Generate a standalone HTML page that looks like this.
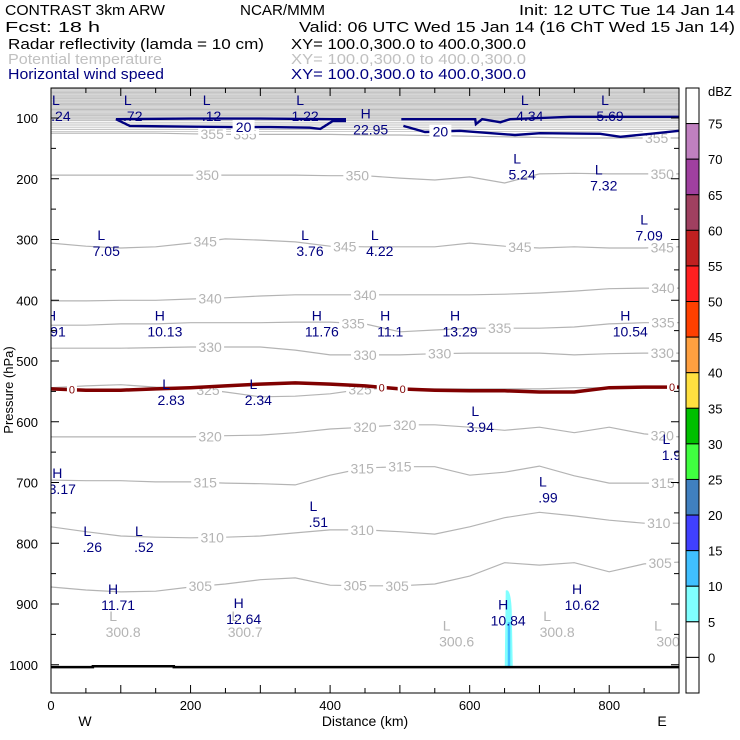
<!DOCTYPE html>
<html><head><meta charset="utf-8"><style>
html,body{margin:0;padding:0;background:#fff;}
svg{display:block;font-family:"Liberation Sans",sans-serif;}
</style></head><body>
<svg id="chart" width="740" height="740" viewBox="0 0 740 740">
<g font-size="15">
<text x="5" y="15" textLength="160" lengthAdjust="spacingAndGlyphs">CONTRAST  3km ARW</text>
<text x="240" y="15" textLength="85" lengthAdjust="spacingAndGlyphs">NCAR/MMM</text>
<text x="519" y="15" textLength="216" lengthAdjust="spacingAndGlyphs">Init: 12 UTC Tue 14 Jan 14</text>
<text x="5" y="32" textLength="95" lengthAdjust="spacingAndGlyphs">Fcst:    18 h</text>
<text x="299" y="32" textLength="436" lengthAdjust="spacingAndGlyphs">Valid: 06 UTC Wed 15 Jan 14 (16 ChT Wed 15 Jan 14)</text>
<text x="8" y="49" textLength="256" lengthAdjust="spacingAndGlyphs">Radar reflectivity (lamda = 10 cm)</text>
<text x="291" y="49" textLength="235" lengthAdjust="spacingAndGlyphs">XY= 100.0,300.0 to 400.0,300.0</text>
<text x="8" y="64" fill="#c0c0c0" textLength="154" lengthAdjust="spacingAndGlyphs">Potential temperature</text>
<text x="291" y="64" fill="#c0c0c0" textLength="235" lengthAdjust="spacingAndGlyphs">XY= 100.0,300.0 to 400.0,300.0</text>
<text x="8" y="79" fill="#000080" textLength="156" lengthAdjust="spacingAndGlyphs">Horizontal wind speed</text>
<text x="291" y="79" fill="#000080" textLength="235" lengthAdjust="spacingAndGlyphs">XY= 100.0,300.0 to 400.0,300.0</text>
</g>
<g id="plot"></g>
</svg>
<script>
const kmGrid=[0,50,100,150,200,250,300,350,400,450,500,550,600,650,700,750,800,850,900];
const topLevels=[52,54,56,58,60,62,64,66,68,70,72,74,76,78,80,82,84,86,88,90,92,94,96,98,100,102,104,107,110,113,116,119,122];
const thetaNames=['355','350','345','340','335','330','325','320','315','310','305'];
const t355=[125,125,125,125,126,127,127,127,127,128,128,129,130,131,132,133,133,133,133];
const t350=[194,194,194,194,194,194,194,194,195,195,199,202,197,207,192,191,192,192,192];
const t345=[306,311,314,312,306,299,301,304,311,312,312,312,306,311,314,312,314,314,312];
const t340=[401,401,400,400,398,396,393,391,391,391,391,391,391,390,388,385,381,380,380];
const t335=[441,441,439,439,437,437,437,436,436,439,452,449,446,446,446,444,439,437,437];
const t330=[479,479,479,478,477,477,477,482,490,490,490,488,487,487,487,490,488,487,487];
const t325=[544,541,539,543,544,551,559,558,554,546,546,546,546,546,546,544,544,544,544];
const t320=[625,625,625,625,625,623,622,618,612,609,605,605,609,614,609,618,609,620,625];
const t315=[696,697,697,699,699,701,702,704,688,676,674,674,688,683,673,689,701,701,701];
const t310=[773,781,788,790,791,790,788,783,778,778,781,785,773,758,749,755,762,767,767];
const t305=[872,877,880,879,872,867,860,857,869,870,870,867,854,832,836,832,847,834,831];
const thetaSeries=[t355,t350,t345,t340,t335,t330,t325,t320,t315,t310,t305];
const thetaLabelKm=[[231,278,868],[224,439,876],[221,421,672,876],[228,450,877],[433,643,877],[228,450,557,876],[225,443],[228,450,507,876],[221,446,500,877],[231,446,871],[214,436,496,873]];
const freezeP=[546,548,548,546,544,541,538,536,538,541,546,548,549,549,551,551,544,543,543];
const freezeLabelKm=[30,474,504,890];
const windA_km=[93,113,257,314,371,386,404,421,421,404,300,200,93];
const windA_p=[102,113,115,115,116,118,105,105,102,102,101,101,102];
const windB_km=[502,608,609,618,644,658,744,900];
const windB_p=[102,102,110,102,107,102,98,98];
const windC_km=[505,536,586,665,701,787,816,859,900];
const windC_p=[113,123,121,128,125,126,131,126,121];
const hlLetters=['L','L','L','L','H','L','L','L','L','L','L','L','L','H','H','H','H','H','H','L','L','L','L','H','L','L','L','L','H','H','H','H'];
const hlValues=['.24','.72','.12','1.22','22.95','4.34','5.69','5.24','7.32','7.05','3.76','4.22','7.09','.91','10.13','11.76','11.1','13.29','10.54','2.83','2.34','3.94','1.9','3.17','.99','.51','.26','.52','11.71','12.64','10.84','10.62'];
const hlKm=[7,110,223,357,451,679,794,668,785,72,364,464,850,0,156,381,479,579,823,165,290,608,882,9,705,376,52,126,89,269,648,754];
const hlP=[70,70,70,70,93,70,70,167,185,293,293,293,267,425,425,425,425,425,425,538,538,582,628,684,698,739,780,780,875,898,901,875];
const minLetters=['L','L','L','L','L'];
const minValues=['300.8','300.7','300.6','300.8','300'];
const minKm=[89,264,567,711,870];
const minP=[920,920,935,920,935];
const yTicks=[100,200,300,400,500,600,700,800,900,1000];
const xTicks=[0,200,400,600,800];
const dbzLevels=['75','70','65','60','55','50','45','40','35','30','25','20','15','10','5','0'];
const dbzColors=['#ffffff','#c080c0','#a040a0','#a04060','#c02020','#ff2020','#ff4000','#ffa040','#ffe040','#00c000','#40ff40','#4080c0','#4040ff','#40c0ff','#80ffff','#ffffff','#ffffff'];
const echoKm=[656,656];
const echoTopP=[878,930];

const L=51,R=679,T=88,B=693;
const X=km=>L+km*(R-L)/900;
const Y=p=>118+(p-100)*0.6075;
const NS='http://www.w3.org/2000/svg';
const plot=document.getElementById('plot');
function mk(tag,attrs,parent){const e=document.createElementNS(NS,tag);for(const k in attrs)e.setAttribute(k,attrs[k]);(parent||plot).appendChild(e);return e;}
function interp(arr,km){const i=Math.min(17,Math.floor(km/50));const f=(km-i*50)/50;return arr[i]*(1-f)+arr[i+1]*f;}

const clip=mk('clipPath',{id:'pc'});mk('rect',{x:L,y:T,width:R-L,height:B-T},clip);
const g=mk('g',{'clip-path':'url(#pc)'});



topLevels.forEach(p=>{const e=mk('line',{x1:L,x2:R,y1:Y(p),y2:Y(p),stroke:'#bdbdbd','stroke-width':p<105?0.9:0.8},g);

});

const e1=mk('path',{d:`M${X(echoKm[0])-3},${Y(echoTopP[0])} Q${X(echoKm[0])+2},${Y(echoTopP[0])-3} ${X(echoKm[0])+3},${Y(echoTopP[0])+20} L${X(echoKm[0])+4},${Y(1003)} L${X(echoKm[0])-4},${Y(1003)} Z`,fill:'#80ffff'},g);


const e2=mk('rect',{x:X(echoKm[1])-1,y:Y(echoTopP[1]),width:2.5,height:Y(1003)-Y(echoTopP[1]),fill:'#40c0ff'},g);



thetaSeries.forEach((arr,i)=>{
 const d=arr.map((p,j)=>(j?'L':'M')+X(kmGrid[j]).toFixed(1)+','+Y(p).toFixed(1)).join(' ');
 const ln=mk('path',{d,fill:'none',stroke:'#b4b4b4','stroke-width':1.2},g);
 
 
 thetaLabelKm[i].forEach(km=>{const x=X(km),y=Y(interp(arr,km));
  mk('rect',{x:x-14,y:y-7,width:28,height:14,fill:'#fff'},g);
  const t=mk('text',{x,y:y+5,'text-anchor':'middle','font-size':14,fill:'#b4b4b4'},g);t.textContent=thetaNames[i];
  
  });
});

const fd=freezeP.map((p,j)=>(j?'L':'M')+X(kmGrid[j]).toFixed(1)+','+Y(p).toFixed(1)).join(' ');
const fl=mk('path',{d:fd,fill:'none',stroke:'#800000','stroke-width':3.5},g);


freezeLabelKm.forEach(km=>{const x=X(km),y=Y(interp(freezeP,km));mk('rect',{x:x-5,y:y-5,width:10,height:10,fill:'#fff'},g);
 const t=mk('text',{x,y:y+4,'text-anchor':'middle','font-size':11,fill:'#800000'},g);t.textContent='0';
 
 });

[[windA_km,windA_p],[windB_km,windB_p],[windC_km,windC_p]].forEach(([ks,ps],i)=>{
 const d=ks.map((k,j)=>(j?'L':'M')+X(k).toFixed(1)+','+Y(ps[j]).toFixed(1)).join(' ');
 const w=mk('path',{d,fill:'none',stroke:'#000080','stroke-width':2.4},g);
 
 });
[[276,115],[558,122]].forEach(([km,p])=>{const x=X(km),y=Y(p);mk('rect',{x:x-11,y:y-7,width:22,height:14,fill:'#fff'},g);
 const t=mk('text',{x,y:y+5,'text-anchor':'middle','font-size':14,fill:'#000080'},g);t.textContent='20';
 
 });

hlLetters.forEach((c,i)=>{const x=X(hlKm[i]),y=Y(hlP[i]);
 const a=mk('text',{x,y:y+5,'text-anchor':'middle','font-size':14,fill:'#000080'},g);a.textContent=c;
 
 
 const b=mk('text',{x:x+5,y:y+21,'text-anchor':'middle','font-size':14,fill:'#000080'},g);b.textContent=hlValues[i];
 
 });
minLetters.forEach((c,i)=>{const x=X(minKm[i]),y=Y(minP[i]);
 const a=mk('text',{x,y:y+5,'text-anchor':'middle','font-size':14,fill:'#b4b4b4'},g);a.textContent=c;
 
 
 const b=mk('text',{x:x+10,y:y+21,'text-anchor':'middle','font-size':14,fill:'#b4b4b4'},g);b.textContent=minValues[i];
 
 });

const tr=mk('path',{d:`M${L},${Y(1004)} L${X(60)},${Y(1004)} L${X(60)},${Y(1002.5)} L${X(176)},${Y(1002.5)} L${X(176)},${Y(1004)} L${R},${Y(1004)}`,fill:'none',stroke:'#000','stroke-width':2.5},g);



const fr=mk('rect',{x:L,y:T,width:R-L,height:B-T,fill:'none',stroke:'#000','stroke-width':1});


for(let p=50;p<=1050;p+=50){const y=Y(p);if(y<T||y>B)continue;const len=p%100?5:8;
 mk('line',{x1:L,x2:L+len,y1:y,y2:y,stroke:'#000'});mk('line',{x1:R-len,x2:R,y1:y,y2:y,stroke:'#000'});}
for(let k=0;k<=900;k+=50){const x=X(k);const len=k%100?5:8;
 mk('line',{x1:x,x2:x,y1:B,y2:B-len,stroke:'#000'});mk('line',{x1:x,x2:x,y1:T,y2:T+len,stroke:'#000'});}
yTicks.forEach(p=>{const t=mk('text',{x:38,y:Y(p)+5,'text-anchor':'end','font-size':13},null);t.textContent=p;
 
 });
xTicks.forEach(k=>{const t=mk('text',{x:X(k),y:710,'text-anchor':'middle','font-size':13});t.textContent=k;
 
 });
const yt=mk('text',{x:0,y:0,transform:'translate(13,390) rotate(-90)','text-anchor':'middle','font-size':13});yt.textContent='Pressure (hPa)';


const xt=mk('text',{x:365,y:726,'text-anchor':'middle','font-size':14});xt.textContent='Distance (km)';


const tw=mk('text',{x:85,y:726,'text-anchor':'middle','font-size':14});tw.textContent='W';


const te=mk('text',{x:662,y:726,'text-anchor':'middle','font-size':14});te.textContent='E';



const segH=(B-T)/dbzColors.length;
dbzColors.forEach((c,i)=>{const r=mk('rect',{x:686,y:T+i*segH,width:13,height:segH,fill:c,stroke:'#000','stroke-width':1});
 
 });
dbzLevels.forEach((l,i)=>{const t=mk('text',{x:708,y:T+(i+1)*segH+5,'font-size':13});t.textContent=l;
 
 });
const du=mk('text',{x:708,y:96,'font-size':13});du.textContent='dBZ';


</script>
</body></html>
